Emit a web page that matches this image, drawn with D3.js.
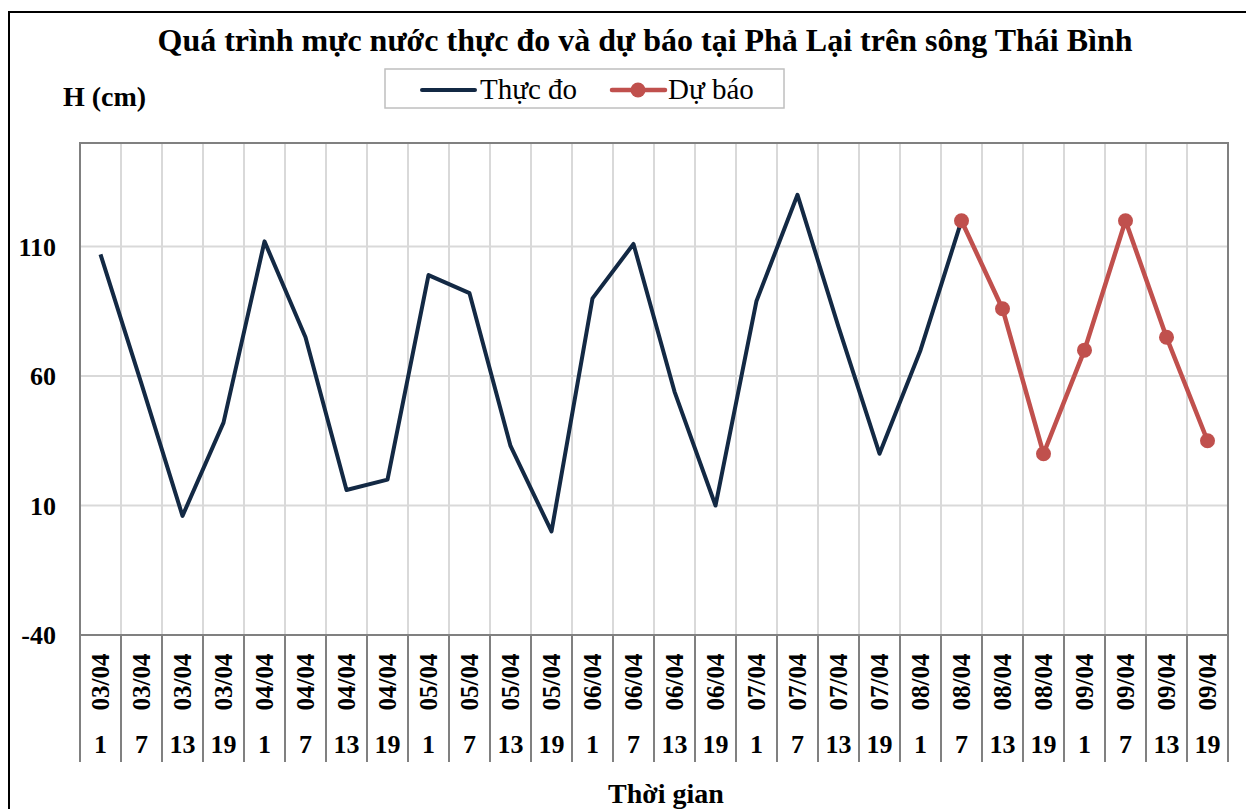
<!DOCTYPE html>
<html>
<head>
<meta charset="utf-8">
<title>Quá trình mực nước thực đo và dự báo tại Phả Lại</title>
<script src="https://d3js.org/d3.v7.min.js"></script>
<style>
  body { margin: 0; background: white; }
  text { font-family: "Liberation Serif", "Times New Roman", serif; fill: black; }
  .bold { font-weight: bold; }
</style>
</head>
<body>
<svg id="chart"></svg>
<script>
var width = 1246;
var height = 809;

// categories (date + hour)
var dates = ["03/04","03/04","03/04","03/04","04/04","04/04","04/04","04/04",
             "05/04","05/04","05/04","05/04","06/04","06/04","06/04","06/04",
             "07/04","07/04","07/04","07/04","08/04","08/04","08/04","08/04",
             "09/04","09/04","09/04","09/04"];
var hours = ["1","7","13","19","1","7","13","19","1","7","13","19","1","7","13","19",
             "1","7","13","19","1","7","13","19","1","7","13","19"];

// water level, cm
var measured = [107, 57, 6, 42, 112, 75, 16, 20, 99, 92, 33, 0, 90, 111, 54, 10,
                89, 130, 79, 30, 70, 120, null, null, null, null, null, null];
var forecast = [null, null, null, null, null, null, null, null, null, null, null, null, null, null,
                null, null, null, null, null, null, null, 120, 86, 30, 70, 120, 75, 35];

var yTicks = [-40, 10, 60, 110];

var margin = {left: 80, right: 18, top: 143, bottom: 174};
var plotW = width - margin.left - margin.right;
var plotH = height - margin.top - margin.bottom;

var svg = d3.select("#chart").attr("width", width).attr("height", height);

// outer frame
svg.append("rect")
  .attr("x", 9).attr("y", 12)
  .attr("width", width + 20).attr("height", height + 20)
  .attr("fill", "none").attr("stroke", "black").attr("stroke-width", 2);

var x = d3.scaleBand().domain(d3.range(dates.length)).range([margin.left, margin.left + plotW]).padding(0);
var y = d3.scaleLinear().domain([-40, 150]).range([margin.top + plotH, margin.top]);

var g = svg.append("g");

// vertical grid lines
g.selectAll(".vgrid")
  .data(d3.range(1, dates.length))
  .enter().append("line")
  .attr("x1", function(d) { return x(d); })
  .attr("x2", function(d) { return x(d); })
  .attr("y1", margin.top).attr("y2", margin.top + plotH)
  .attr("stroke", "#d9d9d9").attr("stroke-width", 2);

// horizontal grid lines
g.selectAll(".hgrid")
  .data(yTicks.slice(1))
  .enter().append("line")
  .attr("x1", margin.left).attr("x2", margin.left + plotW)
  .attr("y1", function(d) { return y(d); })
  .attr("y2", function(d) { return y(d); })
  .attr("stroke", "#d9d9d9").attr("stroke-width", 2);

// plot border
g.append("rect")
  .attr("x", margin.left).attr("y", margin.top)
  .attr("width", plotW).attr("height", plotH)
  .attr("fill", "none").attr("stroke", "#808080").attr("stroke-width", 2);

// y tick labels
g.selectAll(".ylab")
  .data(yTicks)
  .enter().append("text")
  .attr("class", "bold")
  .attr("x", 56)
  .attr("y", function(d) { return y(d) + 9; })
  .attr("text-anchor", "end")
  .attr("font-size", 26)
  .text(function(d) { return d; });

// x axis: two-level category table
var axTop = margin.top + plotH;
g.selectAll(".xsep")
  .data(d3.range(0, dates.length + 1))
  .enter().append("line")
  .attr("x1", function(d) { return d < dates.length ? x(d) : margin.left + plotW; })
  .attr("x2", function(d) { return d < dates.length ? x(d) : margin.left + plotW; })
  .attr("y1", axTop).attr("y2", axTop + 127)
  .attr("stroke", "#808080").attr("stroke-width", 2);

g.selectAll(".dlab")
  .data(dates)
  .enter().append("text")
  .attr("class", "bold")
  .attr("font-size", 25)
  .attr("text-anchor", "middle")
  .attr("transform", function(d, i) {
    return "translate(" + (x(i) + x.bandwidth() / 2 + 8) + "," + (axTop + 47) + ") rotate(-90)";
  })
  .text(function(d) { return d; });

g.selectAll(".hlab")
  .data(hours)
  .enter().append("text")
  .attr("class", "bold")
  .attr("font-size", 26)
  .attr("text-anchor", "middle")
  .attr("x", function(d, i) { return x(i) + x.bandwidth() / 2; })
  .attr("y", axTop + 118)
  .text(function(d) { return d; });

// lines
var cx = function(d, i) { return x(i) + x.bandwidth() / 2; };
var line = d3.line()
  .defined(function(d) { return d !== null; })
  .x(cx)
  .y(function(d) { return y(d); });

g.append("path")
  .datum(measured)
  .attr("d", line)
  .attr("fill", "none")
  .attr("stroke", "#132944")
  .attr("stroke-width", 4)
  .attr("stroke-linejoin", "round");

g.append("path")
  .datum(forecast)
  .attr("d", line)
  .attr("fill", "none")
  .attr("stroke", "#c0504d")
  .attr("stroke-width", 4.5)
  .attr("stroke-linejoin", "round");

g.selectAll(".dot")
  .data(forecast.map(function(v, i) { return {v: v, i: i}; }).filter(function(d) { return d.v !== null; }))
  .enter().append("circle")
  .attr("cx", function(d) { return cx(null, d.i); })
  .attr("cy", function(d) { return y(d.v); })
  .attr("r", 7.5)
  .attr("fill", "#c0504d");

// title
svg.append("text")
  .attr("class", "bold")
  .attr("x", 645).attr("y", 51)
  .attr("text-anchor", "middle")
  .attr("font-size", 32)
  .text("Quá trình mực nước thực đo và dự báo tại Phả Lại trên sông Thái Bình");

// y axis title
svg.append("text")
  .attr("class", "bold")
  .attr("x", 63).attr("y", 106)
  .attr("font-size", 28)
  .text("H (cm)");

// x axis title
svg.append("text")
  .attr("class", "bold")
  .attr("x", 666).attr("y", 803)
  .attr("text-anchor", "middle")
  .attr("font-size", 28)
  .text("Thời gian");

// legend
var legend = svg.append("g");
legend.append("rect")
  .attr("x", 385).attr("y", 69).attr("width", 399).attr("height", 39)
  .attr("fill", "white").attr("stroke", "#bfbfbf").attr("stroke-width", 1.5);
legend.append("line")
  .attr("x1", 422).attr("x2", 475).attr("y1", 90).attr("y2", 90)
  .attr("stroke", "#132944").attr("stroke-width", 4).attr("stroke-linecap", "round");
legend.append("text")
  .attr("x", 480).attr("y", 99).attr("font-size", 29)
  .text("Thực đo");
legend.append("line")
  .attr("x1", 612).attr("x2", 665).attr("y1", 90).attr("y2", 90)
  .attr("stroke", "#c0504d").attr("stroke-width", 4.5).attr("stroke-linecap", "round");
legend.append("circle")
  .attr("cx", 638).attr("cy", 90).attr("r", 7.5).attr("fill", "#c0504d");
legend.append("text")
  .attr("x", 668).attr("y", 99).attr("font-size", 29)
  .text("Dự báo");
</script>
</body>
</html>
